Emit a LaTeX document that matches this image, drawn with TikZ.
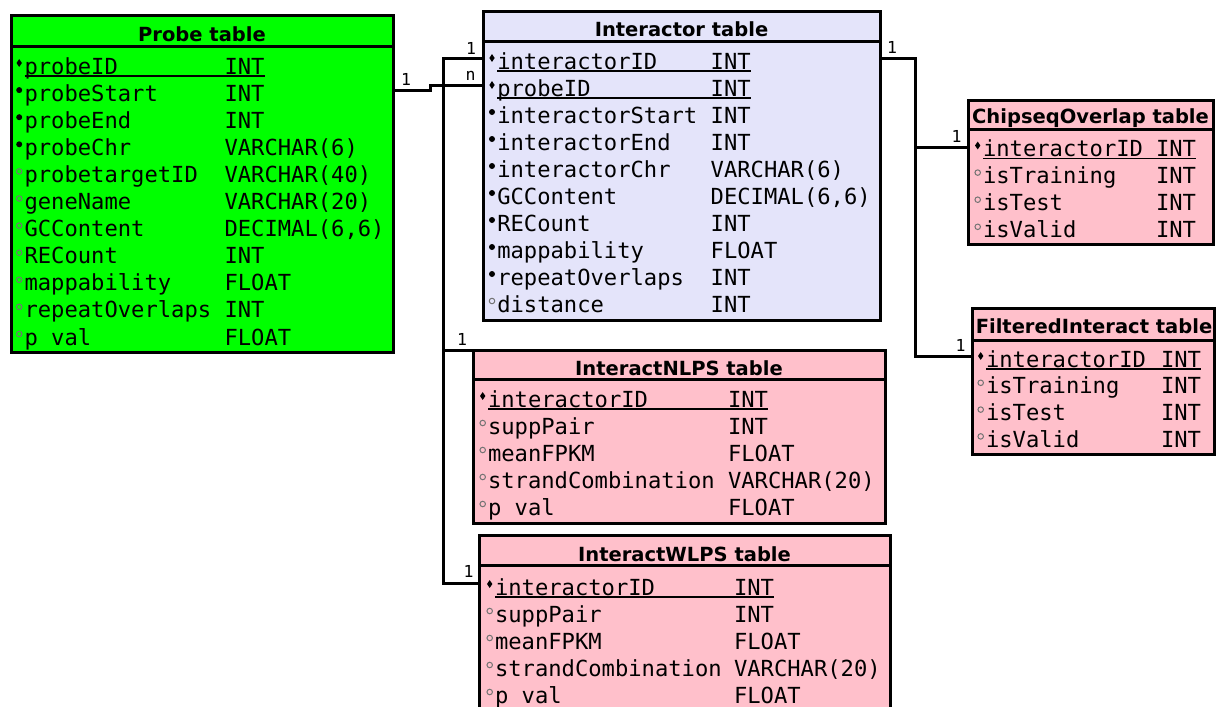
\documentclass[tikz,border=0pt]{standalone}
\usepackage{fontspec}
\usetikzlibrary{shapes.geometric}
\newfontfamily\monof{DejaVu Sans Mono}
\newfontfamily\titlef{DejaVu Sans}
\definecolor{pgreen}{RGB}{0,255,0}
\definecolor{plav}{RGB}{228,228,250}
\definecolor{ppink}{RGB}{255,192,203}
\tikzset{
  tbl/.style={draw=black, line width=3pt, outer sep=0pt, inner sep=0pt, anchor=north west},
  hdr/.style={line width=3pt},
  fld/.style={anchor=base west, inner sep=0pt, outer sep=0pt, font=\monof\fontsize{22.15}{26}\selectfont},
  ttl/.style={anchor=base, inner sep=0pt, font=\titlef\bfseries\fontsize{19.5}{23}\selectfont},
  card/.style={anchor=base, inner sep=0pt, font=\monof\fontsize{16.5}{19}\selectfont},
  conn/.style={line width=3pt, draw=black, line join=miter},
  uline/.style={line width=1.5pt},
  kb/.style={diamond, fill=black, inner sep=0pt, minimum width=5.5pt, minimum height=8pt},
  nb/.style={circle, fill=black, inner sep=0pt, minimum size=6pt},
  ob/.style={circle, draw=black!55, line width=1pt, inner sep=0pt, minimum size=5.5pt}
}
% #1 prefix, #2 name x, #3 type x, #4 baseline y, #5 bullet style, #6 name, #7 type
\newcommand\frow[7]{%
  \node[fld] (#1n) at (#2,#4) {#6};
  \node[fld] (#1t) at (#3,#4) {#7};
  \node[#5] (#1b) at (#2-5.3,#4-11) {};
}
\newcommand\furow[7]{%
  \frow{#1}{#2}{#3}{#4}{#5}{#6}{#7}%
  \draw[uline] ([yshift=-1.8pt]#1n.base west) -- ([yshift=-1.8pt]#1t.base east);
}
\begin{document}
\begin{tikzpicture}[x=1pt,y=-1pt]
\useasboundingbox (0,0) rectangle (1216,707);
\fill[white] (0,0) rectangle (1216,707);
\clip (0,0) rectangle (1216,707);

% ---------- boxes ----------
\node[tbl, fill=pgreen, minimum width=382pt, minimum height=337pt] (probe) at (11,15) {};
\node[tbl, fill=plav, minimum width=397pt, minimum height=309pt] (inter) at (483,11) {};
\node[tbl, fill=ppink, minimum width=412pt, minimum height=173pt] (nlps) at (473,350) {};
\node[tbl, fill=ppink, minimum width=411pt, minimum height=205pt] (wlps) at (479,535) {};
\node[tbl, fill=ppink, minimum width=245pt, minimum height=144pt] (chip) at (968,100) {};
\node[tbl, fill=ppink, minimum width=242.5pt, minimum height=146pt] (filt) at (972,308) {};

% header separators
\draw[hdr] (probe.west |- 0,46) -- (probe.east |- 0,46);
\draw[hdr] (inter.west |- 0,41) -- (inter.east |- 0,41);
\draw[hdr] (nlps.west |- 0,379) -- (nlps.east |- 0,379);
\draw[hdr] (wlps.west |- 0,565) -- (wlps.east |- 0,565);
\draw[hdr] (chip.west |- 0,129) -- (chip.east |- 0,129);
\draw[hdr] (filt.west |- 0,340) -- (filt.east |- 0,340);

% titles
\node[ttl] (probeT) at (202,41) {Probe table};
\node[ttl] (interT) at (681.5,36) {Interactor table};
\node[ttl] (nlpsT) at (679,375) {InteractNLPS table};
\node[ttl] (wlpsT) at (684.5,561) {InteractWLPS table};
\node[ttl] (chipT) at (1090.5,123) {ChipseqOverlap table};
\node[ttl] (filtT) at (1094,333) {FilteredInteract table};

% ---------- Probe table rows ----------
\furow{pa}{24.5}{224.5}{74}{kb}{probeID}{INT}
\frow{pb}{24.5}{224.5}{101.1}{nb}{probeStart}{INT}
\frow{pc}{24.5}{224.5}{128.2}{nb}{probeEnd}{INT}
\frow{pd}{24.5}{224.5}{155.3}{nb}{probeChr}{VARCHAR(6)}
\frow{pe}{24.5}{224.5}{182.4}{ob}{probetargetID}{VARCHAR(40)}
\frow{pf}{24.5}{224.5}{209.5}{ob}{geneName}{VARCHAR(20)}
\frow{pg}{24.5}{224.5}{236.6}{ob}{GCContent}{DECIMAL(6,6)}
\frow{ph}{24.5}{224.5}{263.7}{ob}{RECount}{INT}
\frow{pi}{24.5}{224.5}{290.8}{ob}{mappability}{FLOAT}
\frow{pj}{24.5}{224.5}{317.9}{ob}{repeatOverlaps}{INT}
\frow{pk}{24.5}{224.5}{345}{ob}{p val}{FLOAT}

% ---------- Interactor table rows ----------
\furow{ia}{497.3}{710.7}{69}{kb}{interactorID}{INT}
\furow{ib}{497.3}{710.7}{96}{kb}{probeID}{INT}
\frow{ic}{497.3}{710.7}{123}{nb}{interactorStart}{INT}
\frow{id}{497.3}{710.7}{150}{nb}{interactorEnd}{INT}
\frow{ie}{497.3}{710.7}{177}{nb}{interactorChr}{VARCHAR(6)}
\frow{if}{497.3}{710.7}{204}{nb}{GCContent}{DECIMAL(6,6)}
\frow{ig}{497.3}{710.7}{231}{nb}{RECount}{INT}
\frow{ih}{497.3}{710.7}{258}{nb}{mappability}{FLOAT}
\frow{ii}{497.3}{710.7}{285}{nb}{repeatOverlaps}{INT}
\frow{ij}{497.3}{710.7}{312}{ob}{distance}{INT}

% ---------- InteractNLPS rows ----------
\furow{na}{488}{728}{407}{kb}{interactorID}{INT}
\frow{nb}{488}{728}{434}{ob}{suppPair}{INT}
\frow{nc}{488}{728}{461}{ob}{meanFPKM}{FLOAT}
\frow{nd}{488}{728}{488}{ob}{strandCombination}{VARCHAR(20)}
\frow{ne}{488}{728}{515}{ob}{p val}{FLOAT}

% ---------- InteractWLPS rows ----------
\furow{wa}{495}{734}{595}{kb}{interactorID}{INT}
\frow{wb}{495}{734}{622}{ob}{suppPair}{INT}
\frow{wc}{495}{734}{649}{ob}{meanFPKM}{FLOAT}
\frow{wd}{495}{734}{676}{ob}{strandCombination}{VARCHAR(20)}
\frow{we}{495}{734}{703}{ob}{p val}{FLOAT}

% ---------- ChipseqOverlap rows ----------
\furow{ca}{983}{1156}{156.5}{kb}{interactorID}{INT}
\frow{cb}{983}{1156}{183.6}{ob}{isTraining}{INT}
\frow{cc}{983}{1156}{210.7}{ob}{isTest}{INT}
\frow{cd}{983}{1156}{237.8}{ob}{isValid}{INT}

% ---------- FilteredInteract rows ----------
\furow{fa}{986}{1161}{367}{kb}{interactorID}{INT}
\frow{fb}{986}{1161}{393.8}{ob}{isTraining}{INT}
\frow{fc}{986}{1161}{420.6}{ob}{isTest}{INT}
\frow{fd}{986}{1161}{447.4}{ob}{isValid}{INT}

% ---------- connectors ----------
\draw[conn] (probe.east |- 0,90) -- (430,90) -- (430,85) -- (inter.west |- 0,85);
\draw[conn] (inter.west |- 0,58) -- (443,58) -- (443,583) -- (wlps.west |- 0,583);
\draw[conn] (443,350) -- (nlps.north west);
\draw[conn] (inter.east |- 0,58) -- (915,58) -- (915,356) -- (filt.west |- 0,356);
\draw[conn] (915,147) -- (chip.west |- 0,147);

% cardinality labels
\node[card] (l1) at (406,85) {1};
\node[card] (l2) at (471,54) {1};
\node[card] (l3) at (470.5,80) {n};
\node[card] (l4) at (462,345) {1};
\node[card] (l5) at (468.5,577) {1};
\node[card] (l6) at (892,53) {1};
\node[card] (l7) at (956.5,142) {1};
\node[card] (l8) at (960.5,351) {1};
\end{tikzpicture}
\end{document}
